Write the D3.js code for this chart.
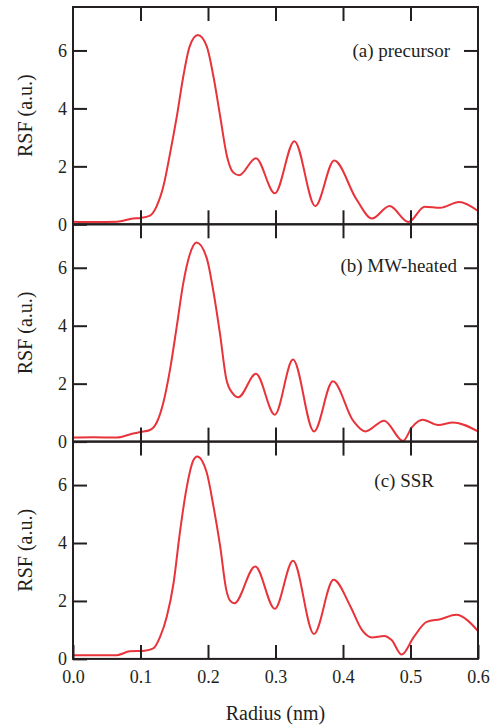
<!DOCTYPE html>
<html>
<head>
<meta charset="utf-8">
<script src="https://cdn.jsdelivr.net/npm/d3@7"></script>
<style>
  body { margin: 0; background: #fff; }
</style>
</head>
<body>
<div class="chart"></div>
<script>
// radius (nm) and RSF values, one set per panel
const radiusA = [0, 0.03, 0.065, 0.089, 0.1, 0.114, 0.124, 0.134, 0.144, 0.154, 0.163, 0.173, 0.185, 0.198, 0.208, 0.218, 0.228, 0.237, 0.246, 0.271, 0.299, 0.328, 0.359, 0.387, 0.42, 0.443, 0.469, 0.497, 0.521, 0.544, 0.572, 0.6];
const rsfA    = [0.09, 0.08, 0.09, 0.2, 0.22, 0.3, 0.63, 1.32, 2.47, 3.75, 5.05, 6.15, 6.53, 6.15, 5.11, 3.73, 2.36, 1.8, 1.69, 2.28, 1.07, 2.87, 0.63, 2.2, 0.86, 0.2, 0.63, 0.08, 0.61, 0.57, 0.77, 0.46];

const radiusB = [0, 0.03, 0.065, 0.089, 0.1, 0.114, 0.124, 0.134, 0.144, 0.154, 0.163, 0.173, 0.183, 0.198, 0.208, 0.218, 0.227, 0.236, 0.245, 0.271, 0.299, 0.326, 0.357, 0.385, 0.415, 0.433, 0.461, 0.489, 0.502, 0.518, 0.541, 0.563, 0.6];
const rsfB    = [0.14, 0.15, 0.14, 0.28, 0.33, 0.4, 0.66, 1.36, 2.52, 4.02, 5.42, 6.46, 6.87, 6.34, 5.18, 3.68, 2.17, 1.68, 1.53, 2.34, 0.93, 2.83, 0.35, 2.08, 0.72, 0.35, 0.72, 0.02, 0.49, 0.75, 0.57, 0.66, 0.35];

const radiusC = [0, 0.03, 0.065, 0.084, 0.106, 0.119, 0.129, 0.139, 0.149, 0.158, 0.168, 0.178, 0.184, 0.198, 0.208, 0.218, 0.227, 0.233, 0.239, 0.27, 0.299, 0.326, 0.357, 0.386, 0.411, 0.428, 0.443, 0.461, 0.472, 0.487, 0.505, 0.524, 0.544, 0.568, 0.584, 0.6];
const rsfC    = [0.13, 0.13, 0.13, 0.26, 0.28, 0.36, 0.76, 1.46, 2.62, 4.3, 5.86, 6.84, 6.99, 6.44, 5.28, 3.89, 2.39, 2.0, 1.92, 3.19, 1.73, 3.39, 0.86, 2.73, 1.81, 1.0, 0.74, 0.79, 0.65, 0.15, 0.76, 1.28, 1.37, 1.52, 1.34, 0.96];

const panelLabels = ["(a) precursor", "(b) MW-heated", "(c) SSR"];
const xTicks = [0, 0.1, 0.2, 0.3, 0.4, 0.5, 0.6];
const yTicks = [0, 2, 4, 6];

const panels = [
  {r: radiusA, v: rsfA, label: panelLabels[0]},
  {r: radiusB, v: rsfB, label: panelLabels[1]},
  {r: radiusC, v: rsfC, label: panelLabels[2]}
];

const width = 494, height = 725;
const margin = {top: 7, left: 73, right: 16};
const panelH = 217.3;
const ink = "#231f20";
const red = "#e8333a";
const serif = '"Liberation Serif", "DejaVu Serif", "Times New Roman", serif';

const svg = d3.select(".chart").append("svg")
  .attr("width", width)
  .attr("height", height);

const x = d3.scaleLinear().domain([0, 0.6]).range([margin.left, width - margin.right]);

// label position per panel (end anchored)
const labelPos = [{x: 450, y: 57}, {x: 457, y: 272}, {x: 434, y: 487}];

panels.forEach((p, i) => {
  const top = margin.top + i * panelH;
  const bottom = top + panelH;
  const y = d3.scaleLinear().domain([0, 7.5]).range([bottom, top]);

  const g = svg.append("g");

  // curve
  const line = d3.line()
    .x((d, k) => x(p.r[k]))
    .y(d => y(d))
    .curve(d3.curveMonotoneX);

  g.append("path")
    .datum(p.v)
    .attr("d", line)
    .attr("fill", "none")
    .attr("stroke", red)
    .attr("stroke-width", 2);

  // axes with inward ticks
  g.append("g")
    .attr("transform", `translate(${margin.left},0)`)
    .call(d3.axisLeft(y).tickValues(yTicks).tickSize(-14).tickPadding(6).tickFormat(d3.format("d")));

  g.append("g")
    .attr("transform", `translate(${width - margin.right},0)`)
    .call(d3.axisRight(y).tickValues(yTicks.slice(1)).tickSize(-14).tickFormat(""));

  g.append("g")
    .attr("transform", `translate(0,${top})`)
    .call(d3.axisTop(x).tickValues(xTicks.slice(1, -1)).tickSize(-14).tickFormat(""));

  g.append("g")
    .attr("transform", `translate(0,${bottom})`)
    .call(d3.axisBottom(x).tickValues(i === 2 ? xTicks : xTicks.slice(1, -1)).tickSize(-14).tickPadding(11)
      .tickFormat(i === 2 ? d3.format(".1f") : ""));

  g.selectAll(".domain").remove();
  g.selectAll(".tick line").attr("stroke", ink).attr("stroke-width", 2);
  g.selectAll(".tick text")
    .attr("fill", ink)
    .style("font-family", serif)
    .style("font-size", "18px");

  g.append("rect")
    .attr("x", margin.left)
    .attr("y", top)
    .attr("width", x(0.6) - margin.left)
    .attr("height", panelH)
    .attr("fill", "none")
    .attr("stroke", ink)
    .attr("stroke-width", 2);

  g.append("text")
    .attr("x", labelPos[i].x)
    .attr("y", labelPos[i].y)
    .attr("text-anchor", "end")
    .attr("fill", ink)
    .style("font-family", serif)
    .style("font-size", "19px")
    .text(p.label);

  g.append("text")
    .attr("transform", `translate(32,${(top + bottom) / 2}) rotate(-90)`)
    .attr("text-anchor", "middle")
    .attr("fill", ink)
    .style("font-family", serif)
    .style("font-size", "20px")
    .text("RSF (a.u.)");
});

svg.append("text")
  .attr("x", x(0.3))
  .attr("y", 720)
  .attr("text-anchor", "middle")
  .attr("fill", ink)
  .style("font-family", serif)
  .style("font-size", "20px")
  .text("Radius (nm)");
</script>
</body>
</html>
